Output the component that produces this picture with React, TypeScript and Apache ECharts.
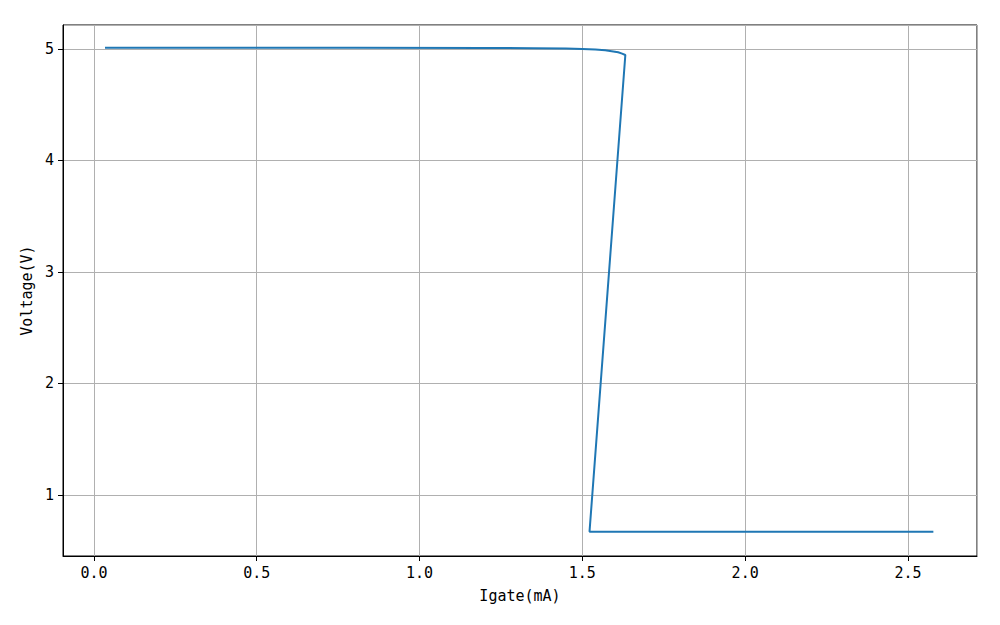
import React, { useEffect, useRef } from "react";
import * as echarts from "echarts";

// Igate (mA) and Voltage (V)
const igate: number[] = [0.034, 0.4, 0.8, 1.2, 1.35, 1.45, 1.5, 1.54, 1.57, 1.595, 1.61, 1.622, 1.632, 1.522, 2.0, 2.578];
const voltage: number[] = [5.01, 5.01, 5.01, 5.009, 5.007, 5.004, 5.0, 4.995, 4.988, 4.978, 4.97, 4.958, 4.946, 0.671, 0.67, 0.67];

const xName = "Igate(mA)";
const yName = "Voltage(V)";
const xRange = [-0.095, 2.712];
const yRange = [0.453, 5.215];

const FONT = "'DejaVu Sans Mono', monospace";

export default function App() {
  const ref = useRef<HTMLDivElement>(null);
  useEffect(() => {
    if (!ref.current) return;
    const chart = echarts.init(ref.current, null, { renderer: "svg" });
    const data = igate.map((x, i) => [x, voltage[i]]);
    const near = (v: number, step: number) => Math.abs(v / step - Math.round(v / step)) < 1e-6;
    chart.setOption({
      animation: false,
      backgroundColor: "#ffffff",
      grid: { left: 63, right: 23, top: 25, bottom: 69, show: true, borderColor: "#000", borderWidth: 1, backgroundColor: "transparent" },
      xAxis: {
        type: "value",
        min: xRange[0],
        max: xRange[1],
        splitNumber: 5,
        name: xName,
        nameLocation: "middle",
        nameGap: 32,
        nameTextStyle: { fontFamily: FONT, fontSize: 15, color: "#000" },
        axisLine: { show: true, onZero: false, lineStyle: { color: "#000", width: 1 } },
        axisTick: { show: true, length: 5, lineStyle: { color: "#000" } },
        axisLabel: {
          margin: 9,
          fontFamily: FONT,
          fontSize: 15,
          color: "#000",
          showMinLabel: false,
          showMaxLabel: false,
          formatter: (v: number) => (near(v, 0.5) ? v.toFixed(1) : ""),
        },
        splitLine: { show: true, lineStyle: { color: "#b0b0b0", width: 1 } },
      },
      yAxis: {
        type: "value",
        min: yRange[0],
        max: yRange[1],
        splitNumber: 5,
        name: yName,
        nameLocation: "middle",
        nameGap: 27,
        nameTextStyle: { fontFamily: FONT, fontSize: 15, color: "#000" },
        axisLine: { show: true, onZero: false, lineStyle: { color: "#000", width: 1 } },
        axisTick: { show: true, length: 5, lineStyle: { color: "#000" } },
        axisLabel: {
          margin: 9,
          fontFamily: FONT,
          fontSize: 15,
          color: "#000",
          showMinLabel: false,
          showMaxLabel: false,
          formatter: (v: number) => (near(v, 1) ? String(Math.round(v)) : ""),
        },
        splitLine: { show: true, lineStyle: { color: "#b0b0b0", width: 1 } },
      },
      series: [
        {
          type: "line",
          data,
          showSymbol: false,
          symbol: "none",
          smooth: false,
          lineStyle: { color: "#1f77b4", width: 2 },
        },
      ],
    });
    return () => chart.dispose();
  }, []);
  return (
    <div
      ref={ref}
      style={{ position: "fixed", left: 0, top: 0, width: 1000, height: 625, background: "#fff" }}
    />
  );
}
